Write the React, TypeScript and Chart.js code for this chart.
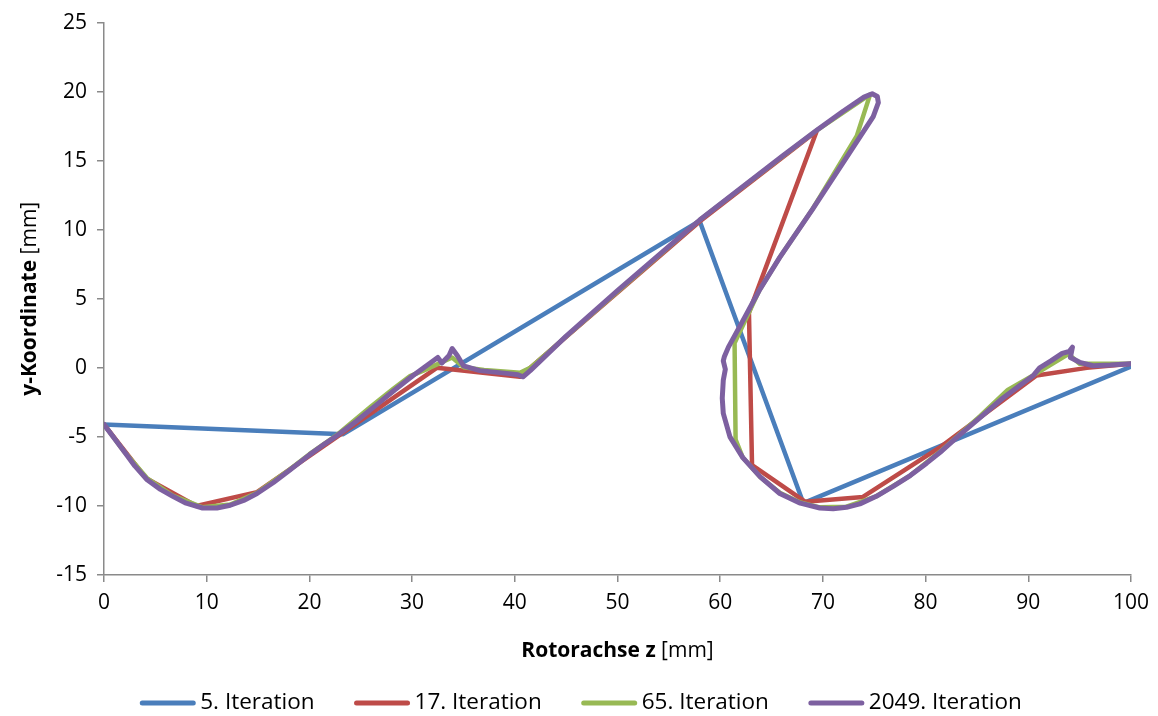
import { useEffect, useRef } from "react";
import { Chart, registerables } from "chart.js";

Chart.register(...registerables);

const SERIES_NAMES = ["5. Iteration", "17. Iteration", "65. Iteration", "2049. Iteration"];
const SERIES_COLORS = ["#4A7EBB", "#BE4B48", "#98B954", "#7D60A0"];

const X_TITLE_BOLD = "Rotorachse z";
const X_TITLE_UNIT = " [mm]";
const Y_TITLE_BOLD = "y-Koordinate";
const Y_TITLE_UNIT = " [mm]";

const X_MIN = 0;
const X_MAX = 100;
const X_STEP = 10;
const Y_MIN = -15;
const Y_MAX = 25;
const Y_STEP = 5;

// 5. Iteration
const iter5Z = [0, 23.3, 58.0, 68.1, 100];
const iter5Y = [-4.1, -4.8, 10.63, -9.8, 0.1];

// 17. Iteration
const iter17Z = [0, 4.1, 9.0, 14.9, 32.4, 40.5, 58.0, 69.4, 62.8, 63.1, 68.3, 73.9, 81.5, 90.8, 95.7, 100];
const iter17Y = [-4.1, -8.0, -10.0, -9.0, 0.0, -0.65, 10.6, 17.15, 4.0, -7.05, -9.7, -9.35, -5.7, -0.55, 0.0, 0.3];

// 65. Iteration
const iter65Z = [
  0, 2.0, 4.2, 6.7, 9.6, 12.3, 14.9, 18.1, 20.0, 22.7, 26.0, 28.2, 29.8, 31.1, 33.9, 35.0, 37.0, 40.5, 41.5,
  58.0, 69.4, 74.6, 73.3, 69.0, 65.8, 63.8, 61.4, 61.5, 62.2, 63.9, 65.8, 67.8, 69.7, 72.3, 75.2, 78.5, 81.6,
  85.3, 88.0, 90.8, 93.9, 95.0, 100,
];
const iter65Y = [
  -4.1, -6.1, -8.0, -9.25, -10.1, -9.9, -9.05, -7.35, -6.25, -4.85, -2.8, -1.5, -0.6, -0.2, 0.75, 0.05, -0.15, -0.35, 0.0,
  10.7, 17.2, 19.8, 16.8, 11.5, 8.0, 5.6, 1.8, -5.2, -6.5, -7.9, -9.05, -9.75, -10.1, -10.05, -9.3, -7.8, -5.95,
  -3.5, -1.6, -0.4, 1.0, 0.3, 0.3,
];

// 2049. Iteration
const iter2049Z = [
  0, 1.0, 2.0, 3.0, 4.2, 5.5, 6.7, 8.0, 9.6, 11.0, 12.3, 13.6, 14.9, 16.5, 18.1, 20.0, 21.5, 22.7, 24.5, 26.5,
  28.3, 29.5, 30.1, 31.3, 32.5, 32.9, 33.6, 33.9, 34.4, 35.0, 36.6, 39.2, 40.3, 40.8, 41.5, 45.0, 50.0, 55.0,
  58.0, 62.0, 66.0, 69.4, 72.0, 74.0, 74.8, 75.3, 75.4, 74.9, 72.0, 69.0, 65.8, 63.8, 62.2, 60.8, 60.4, 60.3,
  60.5, 60.3, 60.2, 60.3, 60.95, 62.2, 63.9, 65.8, 67.8, 69.7, 71.0, 72.3, 73.6, 75.2, 76.8, 78.5, 80.1, 81.6,
  83.1, 85.3, 87.5, 89.5, 90.5, 91.1, 92.2, 93.3, 94.0, 94.3, 94.1, 95.0, 96.3, 98.0, 99.9,
];
const iter2049Y = [
  -4.1, -5.1, -6.1, -7.1, -8.1, -8.8, -9.3, -9.8, -10.15, -10.15, -9.95, -9.6, -9.1, -8.3, -7.4, -6.3, -5.5, -4.9, -3.9, -2.7,
  -1.6, -0.9, -0.55, 0.1, 0.75, 0.35, 0.9, 1.4, 0.9, 0.15, -0.2, -0.4, -0.5, -0.65, -0.2, 2.3, 5.6, 8.8,
  10.7, 13.0, 15.3, 17.2, 18.6, 19.6, 19.85, 19.65, 19.2, 18.2, 14.9, 11.5, 8.0, 5.6, 3.4, 1.5, 0.8, 0.5,
  -0.1, -0.9, -2.2, -3.3, -5.0, -6.5, -7.9, -9.1, -9.8, -10.15, -10.2, -10.1, -9.85, -9.3, -8.6, -7.8, -6.9, -6.0,
  -5.0, -3.6, -2.2, -1.1, -0.55, 0.0, 0.5, 1.05, 1.2, 1.5, 0.75, 0.4, 0.15, 0.2, 0.3,
];

const SERIES_Z = [iter5Z, iter17Z, iter65Z, iter2049Z];
const SERIES_Y = [iter5Y, iter17Y, iter65Y, iter2049Y];

const FONT = '"Open Sans", "DejaVu Sans", sans-serif';
const AXIS_GRAY = "#8a8a8a";

const decorations = {
  id: "decorations",
  afterDraw(chart: any) {
    const ctx: CanvasRenderingContext2D = chart.ctx;
    const { left, right, top, bottom } = chart.chartArea;
    ctx.save();
    ctx.fillStyle = "#000";
    ctx.textBaseline = "middle";
    ctx.textAlign = "left";

    // x title
    ctx.font = `bold 21px ${FONT}`;
    const xb = ctx.measureText(X_TITLE_BOLD).width;
    ctx.font = `21px ${FONT}`;
    const xn = ctx.measureText(X_TITLE_UNIT).width;
    const x0 = (left + right) / 2 - (xb + xn) / 2;
    const xy = 651;
    ctx.font = `bold 21px ${FONT}`;
    ctx.fillText(X_TITLE_BOLD, x0, xy);
    ctx.font = `21px ${FONT}`;
    ctx.fillText(X_TITLE_UNIT, x0 + xb, xy);

    // y title
    ctx.save();
    ctx.translate(30, (top + bottom) / 2);
    ctx.rotate(-Math.PI / 2);
    ctx.font = `bold 21px ${FONT}`;
    const yb = ctx.measureText(Y_TITLE_BOLD).width;
    ctx.font = `21px ${FONT}`;
    const yn = ctx.measureText(Y_TITLE_UNIT).width;
    const y0 = -(yb + yn) / 2;
    ctx.font = `bold 21px ${FONT}`;
    ctx.fillText(Y_TITLE_BOLD, y0, 0);
    ctx.font = `21px ${FONT}`;
    ctx.fillText(Y_TITLE_UNIT, y0 + yb, 0);
    ctx.restore();

    // legend
    ctx.font = `22.5px ${FONT}`;
    const lineLen = 55;
    const gap = 5;
    const itemGap = 40;
    const widths = SERIES_NAMES.map((n) => lineLen + gap + ctx.measureText(n).width);
    const total = widths.reduce((a, b) => a + b, 0) + itemGap * (widths.length - 1);
    let lx = chart.width / 2 - total / 2 + 2;
    const ly = 703;
    SERIES_NAMES.forEach((name, i) => {
      ctx.strokeStyle = SERIES_COLORS[i];
      ctx.lineWidth = 5;
      ctx.lineCap = "round";
      ctx.beginPath();
      ctx.moveTo(lx + 2, ly);
      ctx.lineTo(lx + lineLen - 2, ly);
      ctx.stroke();
      ctx.fillStyle = "#000";
      ctx.fillText(name, lx + lineLen + gap, ly);
      lx += widths[i] + itemGap;
    });
    ctx.restore();
  },
};

export default function App() {
  const ref = useRef<HTMLCanvasElement | null>(null);

  useEffect(() => {
    if (!ref.current) return;
    const datasets = SERIES_NAMES.map((name, i) => ({
      label: name,
      data: SERIES_Z[i].map((z, k) => ({ x: z, y: SERIES_Y[i][k] })),
      borderColor: SERIES_COLORS[i],
      backgroundColor: SERIES_COLORS[i],
      borderWidth: i === 3 ? 5 : 4.5,
      borderJoinStyle: "round" as const,
      borderCapStyle: "round" as const,
      showLine: true,
      pointRadius: 0,
      pointHoverRadius: 0,
      tension: 0,
      order: SERIES_NAMES.length - 1 - i,
    }));

    const chart = new Chart(ref.current, {
      type: "scatter",
      data: { datasets },
      options: {
        animation: false,
        responsive: false,
        devicePixelRatio: 1,
        layout: { padding: { left: 0, right: 27, top: 21, bottom: 0 } },
        plugins: { legend: { display: false }, tooltip: { enabled: false } },
        scales: {
          x: {
            type: "linear",
            min: X_MIN,
            max: X_MAX,
            afterFit: (s: any) => {
              s.height = 141;
            },
            ticks: {
              stepSize: X_STEP,
              color: "#000",
              font: { family: FONT, size: 21 },
              padding: 8,
              maxRotation: 0,
            },
            grid: {
              display: true,
              drawOnChartArea: false,
              drawTicks: true,
              tickLength: 7,
              color: AXIS_GRAY,
              lineWidth: 1.5,
            },
            border: { display: true, color: AXIS_GRAY, width: 1.5 },
          },
          y: {
            type: "linear",
            min: Y_MIN,
            max: Y_MAX,
            afterFit: (s: any) => {
              s.width = 104;
            },
            ticks: {
              stepSize: Y_STEP,
              color: "#000",
              font: { family: FONT, size: 21 },
              padding: 10,
            },
            grid: {
              display: true,
              drawOnChartArea: false,
              drawTicks: true,
              tickLength: 7,
              color: AXIS_GRAY,
              lineWidth: 1.5,
            },
            border: { display: true, color: AXIS_GRAY, width: 1.5 },
          },
        },
      },
      plugins: [decorations],
    });
    return () => chart.destroy();
  }, []);

  return (
    <div style={{ position: "fixed", left: 0, top: 0, width: 1158, height: 716, background: "#fff" }}>
      <canvas ref={ref} width={1158} height={716} style={{ display: "block", width: 1158, height: 716 }} />
    </div>
  );
}
